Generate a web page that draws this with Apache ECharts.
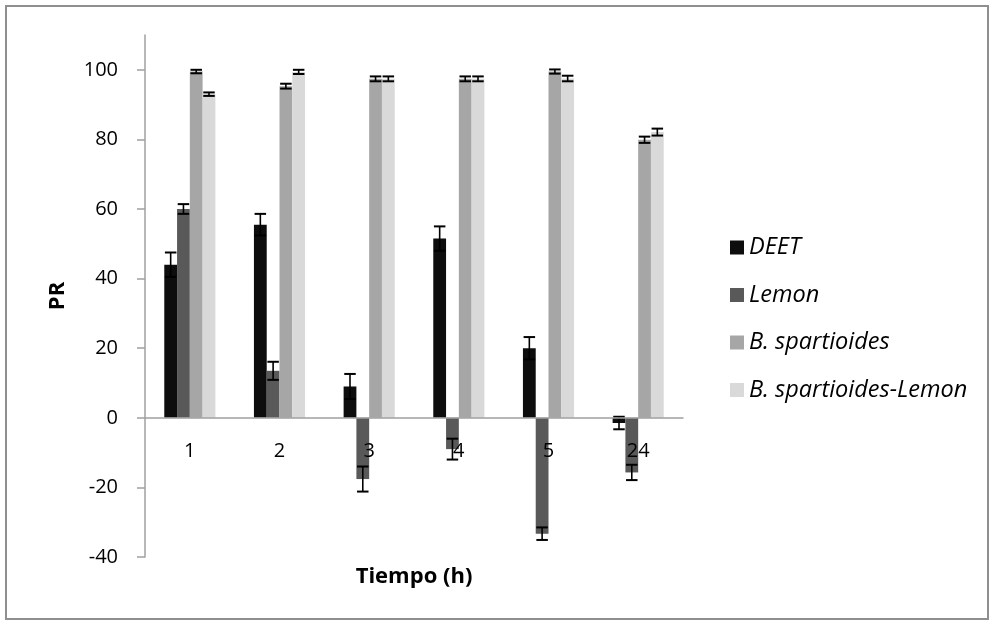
<!DOCTYPE html>
<html>
<head>
<meta charset="utf-8">
<script src="https://cdn.jsdelivr.net/npm/echarts@6/dist/echarts.min.js"></script>
<style>
html,body{margin:0;padding:0;background:#fff;}
#wrap{position:relative;width:993px;height:624px;}
#chart{position:absolute;left:0;top:0;width:993px;height:624px;}
#frame{position:absolute;left:5px;top:5px;width:980px;height:611px;border:2px solid #8f8f8f;pointer-events:none;}
</style>
</head>
<body>
<div id="wrap"><div id="chart"></div><div id="frame"></div></div>
<script>
const categories = ['1', '2', '3', '4', '5', '24'];
const seriesNames = ['DEET', 'Lemon', 'B. spartioides', 'B. spartioides-Lemon'];
const deet = [44, 55.5, 9, 51.5, 20, -1.5];
const deetErr = [3.5, 3.1, 3.6, 3.5, 3.2, 1.8];
const lemon = [60, 13.5, -17.6, -9, -33.3, -15.7];
const lemonErr = [1.4, 2.6, 3.6, 3, 1.8, 2.2];
const bs = [99.5, 95.3, 97.4, 97.4, 99.5, 79.9];
const bsErr = [0.5, 0.7, 0.7, 0.7, 0.6, 0.9];
const bsl = [93.0, 99.4, 97.4, 97.4, 97.5, 82.1];
const bslErr = [0.5, 0.6, 0.7, 0.7, 0.8, 1.0];
const yTicks = [-40, -20, 0, 20, 40, 60, 80, 100];
const Y_MIN = -40, Y_MAX = 110;

const colors = ['#0d0d0d', '#595959', '#a6a6a6', '#d9d9d9'];
const GAP = 0.43;
const FONT = 'Open Sans';
const W = 993, H = 624;
const G = { left: 145, right: 310, top: 35, bottom: 67 };
const plotH = H - G.top - G.bottom;
// move the category axis (line + labels + name) to the value 0 line
const zeroOffset = -plotH * (0 - Y_MIN) / (Y_MAX - Y_MIN);

const values = [deet, lemon, bs, bsl];
const errs = [deetErr, lemonErr, bsErr, bslErr];

function barSeries(k) {
  return {
    name: seriesNames[k],
    type: 'bar',
    data: values[k],
    barGap: '0%',
    barCategoryGap: (GAP * 100) + '%',
    itemStyle: { color: colors[k] },
    emphasis: { disabled: true },
    z: 2
  };
}

function errSeries(k) {
  return {
    type: 'custom',
    silent: true,
    z: 10,
    encode: { x: 0, y: [1, 2] },
    data: values[k].map((v, i) => [i, v - errs[k][i], v + errs[k][i]]),
    renderItem: function (params, api) {
      const i = api.value(0);
      const lo = api.coord([i, api.value(1)]);
      const hi = api.coord([i, api.value(2)]);
      const band = api.size([1, 0])[0];
      const barW = band * (1 - GAP) / 4;
      const x = lo[0] + (k - 1.5) * barW;
      const half = barW * 0.45;
      const st = { stroke: '#000', lineWidth: 1.6 };
      const capSt = { stroke: '#000', lineWidth: 2 };
      return {
        type: 'group',
        children: [
          { type: 'line', shape: { x1: x, y1: lo[1], x2: x, y2: hi[1] }, style: st },
          { type: 'line', shape: { x1: x - half, y1: lo[1], x2: x + half, y2: lo[1] }, style: capSt },
          { type: 'line', shape: { x1: x - half, y1: hi[1], x2: x + half, y2: hi[1] }, style: capSt }
        ]
      };
    }
  };
}

const chart = echarts.init(document.getElementById('chart'));
chart.setOption({
  animation: false,
  backgroundColor: '#fff',
  grid: { left: G.left, right: G.right, top: G.top, bottom: G.bottom, containLabel: false, outerBoundsMode: 'none' },
  legend: {
    data: seriesNames,
    orient: 'vertical',
    left: 725,
    top: 231,
    itemWidth: 14,
    itemHeight: 14,
    itemGap: 24.5,
    icon: 'rect',
    selectedMode: false,
    textStyle: { fontFamily: FONT, fontSize: 23.5, fontStyle: 'italic', color: '#000' }
  },
  xAxis: {
    type: 'category',
    data: categories,
    offset: zeroOffset,
    z: 20,
    name: 'Tiempo (h)',
    nameLocation: 'middle',
    nameGap: 148,
    nameTextStyle: { fontFamily: FONT, fontSize: 22, fontWeight: 'bold', color: '#000' },
    axisLine: { onZero: false, lineStyle: { color: '#a0a0a0', width: 1.5 } },
    axisTick: { show: false },
    axisLabel: { fontFamily: FONT, fontSize: 20, color: '#000', margin: 23 },
    splitLine: { show: false }
  },
  yAxis: {
    type: 'value',
    min: Y_MIN,
    max: Y_MAX,
    interval: 20,
    name: 'PR',
    nameLocation: 'middle',
    nameGap: 76,
    nameTextStyle: { fontFamily: FONT, fontSize: 22, fontWeight: 'bold', color: '#000' },
    axisLine: { show: true, lineStyle: { color: '#a0a0a0', width: 1.5 } },
    axisTick: { show: true, length: 8, customValues: yTicks, lineStyle: { color: '#a0a0a0', width: 1.5 } },
    axisLabel: { fontFamily: FONT, fontSize: 20, color: '#000', margin: 27, customValues: yTicks },
    splitLine: { show: false }
  },
  series: [barSeries(0), barSeries(1), barSeries(2), barSeries(3),
           errSeries(0), errSeries(1), errSeries(2), errSeries(3)]
});
</script>
</body>
</html>
